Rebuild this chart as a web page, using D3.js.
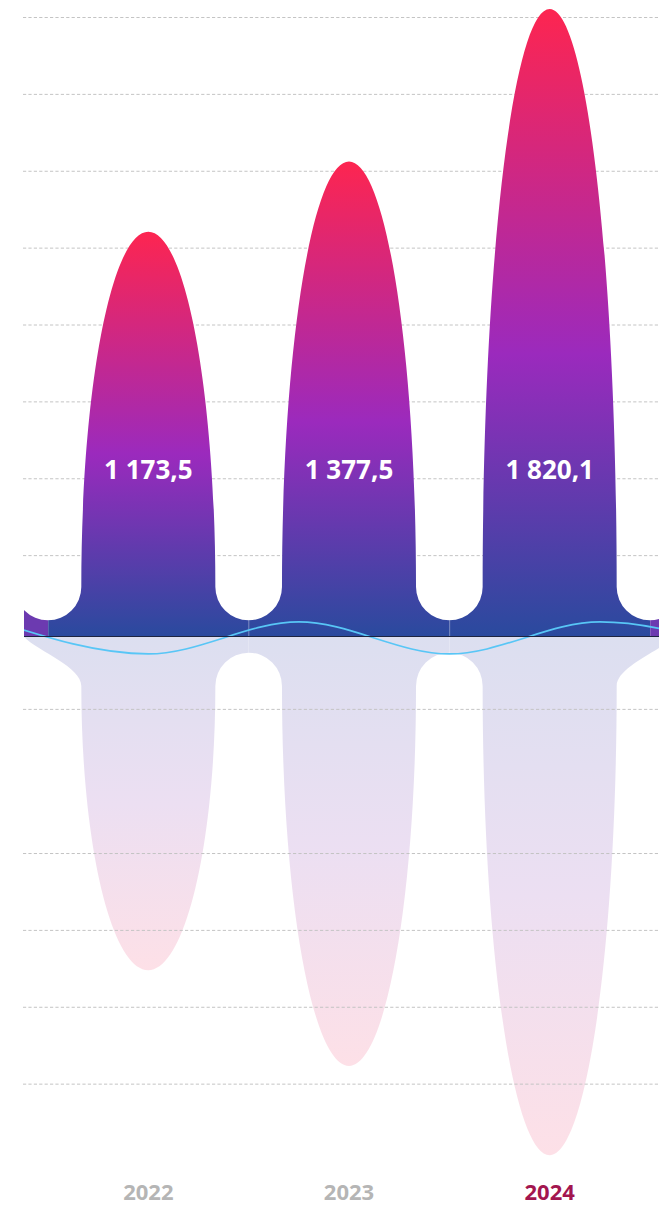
<!DOCTYPE html>
<html>
<head>
<meta charset="utf-8">
<script src="https://cdn.jsdelivr.net/npm/d3@7"></script>
<style>
  body { margin: 0; background: #fff; }
  svg { display: block; }
  .grid line { stroke: #c4c4c4; stroke-dasharray: 3.2, 2.2; }
  .grid .domain { display: none; }
  .value-label { fill: #fff; font-family: "Open Sans", sans-serif; font-weight: 700; font-size: 26px; }
  .x-axis text { font-family: "Open Sans", sans-serif; font-weight: 700; font-size: 22px; }
  .x-axis .domain { display: none; }
</style>
</head>
<body>
<svg id="svgChart" width="659" height="1207"></svg>
<script>
// Chart data
var years = ["2022", "2023", "2024"];
var revenue = [1173.5, 1377.5, 1820.1];
var mirrorValues = [970, 1248, 1507];
var highlightYear = "2024";

// Grid rows (in grid units, 0 = axis line)
var gridTicksTop = [1, 2, 3, 4, 5, 6, 7, 8];
var gridTicksBottom = [-1, -2.875, -3.875, -4.875, -5.875];

// Decorative wave (position in band units, value in chart units)
var wavePositions = [-0.25, 0.5, 1.25, 2, 2.75, 3.5];
var waveValues = [41, -52, 41, -52, 41, -52];

// Layout
var width = 659, height = 1207;
var plotLeft = 24;
var baseline = 636;
var peakTop = 9;
var bandLeft = 48, bandRight = 650;
var shoulder = 49;
var labelBaseline = 479;
var yearBaseline = 1200;

var svg = d3.select("#svgChart");
var defs = svg.append("defs");

defs.append("clipPath")
  .attr("id", "plot-clip")
  .append("rect")
    .attr("x", plotLeft)
    .attr("y", 0)
    .attr("width", width - plotLeft)
    .attr("height", height);

// Scales
let x = d3.scaleBand()
  .domain(years)
  .range([bandLeft, bandRight])
  .padding(0);

let xUnits = d3.scaleLinear()
  .domain([0, years.length])
  .range([bandLeft, bandRight]);

let yUp = d3.scaleLinear()
  .domain([0, d3.max(revenue)])
  .range([baseline, peakTop]);

let yDown = d3.scaleLinear()
  .domain([0, d3.max(revenue)])
  .range([baseline, baseline + (baseline - peakTop)]);

let gridScale = d3.scaleLinear()
  .domain([0, 8])
  .range([632, 17]);

let bw = x.bandwidth();
let a = bw * 0.334;          // half width of a column
let r = bw / 2 - a;          // radius of the notch between columns
const k = 0.5523;            // bezier constant for quarter ellipse

let fmt = d3.formatLocale({ decimal: ",", thousands: "\u00a0", grouping: [3], currency: ["", ""] })
  .format(",.1f");

// Gradients, one per column
years.forEach(function(year) {
  let up = defs.append("linearGradient")
    .attr("id", "grad-up-" + year)
    .attr("x1", 0).attr("y1", 0).attr("x2", 0).attr("y2", 1);
  up.append("stop").attr("offset", "0%").attr("stop-color", "#fd2550");
  up.append("stop").attr("offset", "55%").attr("stop-color", "#9b2abd");
  up.append("stop").attr("offset", "100%").attr("stop-color", "#2a4a9e");

  let down = defs.append("linearGradient")
    .attr("id", "grad-down-" + year)
    .attr("x1", 0).attr("y1", 0).attr("x2", 0).attr("y2", 1);
  down.append("stop").attr("offset", "0%").attr("stop-color", "#dcdff0");
  down.append("stop").attr("offset", "50%").attr("stop-color", "#ecdff2");
  down.append("stop").attr("offset", "100%").attr("stop-color", "#fde0e7");
});

// Builds one column: elliptical dome with rounded notches at both band edges
function columnPath(cx, tipY, y0, dir, leftEdge, rightEdge) {
  let xl = cx - bw / 2, xr = cx + bw / 2;
  let ys = y0 + dir * shoulder;
  let h = tipY - ys;
  let p = d3.path();

  if (leftEdge != null) {
    let span = (cx - a) - leftEdge;
    p.moveTo(leftEdge, y0);
    p.bezierCurveTo(leftEdge + span * 0.27, y0 + dir * 15, cx - a, y0 + dir * 30, cx - a, ys);
  } else {
    p.moveTo(xl, y0);
    p.lineTo(xl, ys - dir * r);
    if (dir < 0) p.arc(xl, ys, r, Math.PI / 2, 0, true);
    else p.arc(xl, ys, r, -Math.PI / 2, 0, false);
  }

  p.bezierCurveTo(cx - a, ys + k * h, cx - k * a, tipY, cx, tipY);
  p.bezierCurveTo(cx + k * a, tipY, cx + a, ys + k * h, cx + a, ys);

  if (rightEdge != null) {
    let span = rightEdge - (cx + a);
    p.bezierCurveTo(cx + a, y0 + dir * 30, rightEdge - span * 0.27, y0 + dir * 15, rightEdge, y0);
  } else {
    if (dir < 0) p.arc(xr, ys, r, Math.PI, Math.PI / 2, true);
    else p.arc(xr, ys, r, Math.PI, Math.PI * 1.5, false);
    p.lineTo(xr, y0);
  }
  p.closePath();
  return p.toString();
}

// Partial neighbour pieces at the left and right plot edges (top half)
function edgePiece(side) {
  let ys = baseline - shoulder;
  let p = d3.path();
  if (side == "left") {
    p.moveTo(bandLeft - r, ys);
    p.arc(bandLeft, ys, r, Math.PI, Math.PI / 2, true);
    p.lineTo(bandLeft, baseline);
    p.lineTo(bandLeft - r, baseline);
  } else {
    p.moveTo(bandRight, baseline);
    p.lineTo(bandRight, ys + r);
    p.arc(bandRight, ys, r, Math.PI / 2, 0, true);
    p.lineTo(bandRight + r, baseline);
  }
  p.closePath();
  return p.toString();
}

let data = years.map((year, i) => ({ year: year, up: revenue[i], down: mirrorValues[i], i: i }));
let edgeSpan = (x(years[0]) + bw / 2 - a) - plotLeft;

// Lower (mirrored) columns
let gDown = svg.append("g").attr("clip-path", "url(#plot-clip)");
gDown.selectAll(".col-down")
  .data(data)
  .enter().append("path")
    .attr("class", "col-down")
    .attr("fill", d => "url(#grad-down-" + d.year + ")")
    .attr("d", d => {
      let cx = x(d.year) + bw / 2;
      let left = d.i == 0 ? plotLeft : null;
      let right = d.i == data.length - 1 ? cx + a + edgeSpan : null;
      return columnPath(cx, yDown(d.down), baseline + 1, 1, left, right);
    });

// Horizontal dashed grid
svg.append("g")
  .attr("class", "grid")
  .attr("transform", `translate(${plotLeft - 1}, 0)`)
  .call(d3.axisRight(gridScale)
    .tickValues(gridTicksTop.concat(gridTicksBottom))
    .tickSize(width - plotLeft + 1)
    .tickFormat(""));

// Upper columns
let gUp = svg.append("g").attr("clip-path", "url(#plot-clip)");

gUp.selectAll(".edge")
  .data(["left", "right"])
  .enter().append("path")
    .attr("class", "edge")
    .attr("fill", "#6c3ab0")
    .attr("d", d => edgePiece(d));

gUp.selectAll(".col-up")
  .data(data)
  .enter().append("path")
    .attr("class", "col-up")
    .attr("fill", d => "url(#grad-up-" + d.year + ")")
    .attr("d", d => columnPath(x(d.year) + bw / 2, yUp(d.up), baseline, -1, null, null));

// Faint seams on band boundaries
gUp.selectAll(".seam")
  .data(d3.range(years.length + 1))
  .enter().append("line")
    .attr("class", "seam")
    .attr("x1", d => xUnits(d) + 0.5)
    .attr("x2", d => xUnits(d) + 0.5)
    .attr("y1", baseline - shoulder + r)
    .attr("y2", baseline)
    .attr("stroke", "#ffffff")
    .attr("stroke-opacity", 0.18);

// Wave line
let waveLine = d3.line()
  .x(d => xUnits(d[0]))
  .y(d => yUp(d[1]))
  .curve(d3.curveMonotoneX);

svg.append("path")
  .attr("clip-path", "url(#plot-clip)")
  .attr("d", waveLine(d3.zip(wavePositions, waveValues)))
  .attr("fill", "none")
  .attr("stroke", "#58c6f6")
  .attr("stroke-width", 1.6);

// Axis line
svg.append("line")
  .attr("x1", plotLeft)
  .attr("x2", width)
  .attr("y1", baseline + 0.5)
  .attr("y2", baseline + 0.5)
  .attr("stroke", "#1d2440")
  .attr("stroke-width", 1);

// Value labels
svg.selectAll(".value-label")
  .data(data)
  .enter().append("text")
    .attr("class", "value-label")
    .attr("x", d => x(d.year) + bw / 2)
    .attr("y", labelBaseline)
    .attr("text-anchor", "middle")
    .text(d => fmt(d.up));

// Year axis
let xAxis = svg.append("g")
  .attr("class", "x-axis")
  .attr("transform", `translate(0, ${yearBaseline - 0.71 * 22})`)
  .call(d3.axisBottom(x).tickSize(0).tickPadding(0));

xAxis.selectAll("text")
  .style("fill", d => d == highlightYear ? "#a3164f" : "#b5b5b5");
</script>
</body>
</html>
